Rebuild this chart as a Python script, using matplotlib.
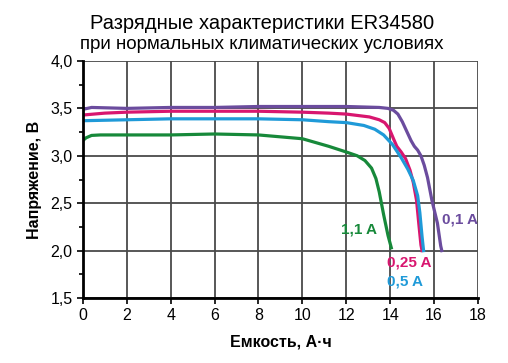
import numpy as np
import matplotlib.pyplot as plt

plt.rcParams['font.family'] = ['Liberation Sans', 'DejaVu Sans']

# 0,1 A
cap_01 = [0, 0.4, 2, 4, 6, 8, 10, 12, 13.5, 13.9, 14.15, 14.35, 14.55, 14.77, 14.95, 15.1, 15.25, 15.4, 15.55, 15.7, 15.9, 16.15, 16.3, 16.35]
volt_01 = [3.49, 3.51, 3.50, 3.51, 3.51, 3.52, 3.52, 3.52, 3.51, 3.50, 3.48, 3.44, 3.36, 3.25, 3.16, 3.10, 3.06, 3.00, 2.90, 2.77, 2.53, 2.29, 2.05, 2.0]

# 0,25 A
cap_025 = [0, 1, 2, 4, 6, 8, 10, 11.2, 12, 13.05, 13.5, 13.75, 13.95, 14.15, 14.3, 14.5, 14.7, 14.9, 15.05, 15.2, 15.3, 15.4, 15.45]
volt_025 = [3.43, 3.45, 3.46, 3.47, 3.47, 3.47, 3.46, 3.45, 3.44, 3.41, 3.38, 3.35, 3.29, 3.18, 3.10, 3.04, 2.97, 2.85, 2.72, 2.53, 2.29, 2.06, 2.0]

# 0,5 A
cap_05 = [0, 2, 4, 6, 8, 10, 11.2, 12, 12.8, 13.3, 13.7, 14.1, 14.5, 14.8, 15.05, 15.25, 15.35, 15.45, 15.52]
volt_05 = [3.37, 3.38, 3.39, 3.39, 3.39, 3.38, 3.36, 3.35, 3.32, 3.28, 3.22, 3.12, 2.98, 2.86, 2.74, 2.58, 2.40, 2.15, 2.0]

# 1,1 A
cap_11 = [0, 0.15, 0.4, 0.8, 2, 4, 6, 8, 10, 11.2, 12, 12.5, 12.85, 13.15, 13.35, 13.5, 13.7, 13.9, 14.05]
volt_11 = [3.16, 3.19, 3.215, 3.22, 3.22, 3.22, 3.23, 3.22, 3.18, 3.10, 3.04, 3.00, 2.95, 2.87, 2.76, 2.62, 2.38, 2.16, 2.03]

x_ticks = np.arange(0, 19, 2)
y_ticks = [1.5, 2.0, 2.5, 3.0, 3.5, 4.0]
y_labels = ['1,5', '2,0', '2,5', '3,0', '3,5', '4,0']

c_purple = '#6b4c9e'
c_magenta = '#d8166f'
c_blue = '#1f9ad8'
c_green = '#17893a'

fig = plt.figure(figsize=(5.08, 3.63), dpi=100)
ax = fig.add_axes([0.163, 0.179, 0.778, 0.653])

ax.plot(cap_01, volt_01, color=c_purple, lw=2.3, solid_joinstyle='round')
ax.plot(cap_025, volt_025, color=c_magenta, lw=2.3, solid_joinstyle='round')
ax.plot(cap_05, volt_05, color=c_blue, lw=2.3, solid_joinstyle='round')
ax.plot(cap_11, volt_11, color=c_green, lw=2.3, solid_joinstyle='round')

ax.text(16.35, 2.33, '0,1 A', color=c_purple, fontsize=11, fontweight='bold', va='center')
ax.text(11.75, 2.22, '1,1 A', color=c_green, fontsize=11, fontweight='bold', va='center')
ax.text(13.85, 1.87, '0,25 A', color=c_magenta, fontsize=11, fontweight='bold', va='center')
ax.text(13.85, 1.67, '0,5 A', color=c_blue, fontsize=11, fontweight='bold', va='center')

ax.set_xlim(0, 18)
ax.set_ylim(1.5, 4.0)
ax.set_xticks(x_ticks)
ax.set_yticks(y_ticks)
ax.set_yticklabels(y_labels)
ax.set_yticks(np.arange(1.75, 4.0, 0.5), minor=True)
ax.grid(True, color='#4a4a4a', lw=1.3)
ax.set_axisbelow(True)

for s in ['top', 'right']:
    ax.spines[s].set_visible(False)
for s in ['left', 'bottom']:
    ax.spines[s].set_linewidth(2)
ax.tick_params(axis='both', labelsize=11.5, width=1.2, length=4, direction='out')
ax.tick_params(axis='y', which='minor', width=1.2, length=3)

ax.set_xlabel('Емкость, А·ч', fontsize=11.5, fontweight='bold', labelpad=8)
ax.set_ylabel('Напряжение, В', fontsize=11.5, fontweight='bold', labelpad=6)

fig.text(0.515, 0.935, 'Разрядные характеристики ER34580', ha='center', va='center', fontsize=14.5)
fig.text(0.515, 0.877, 'при нормальных климатических условиях', ha='center', va='center', fontsize=13.5)

fig.savefig('out.png', dpi=100)
